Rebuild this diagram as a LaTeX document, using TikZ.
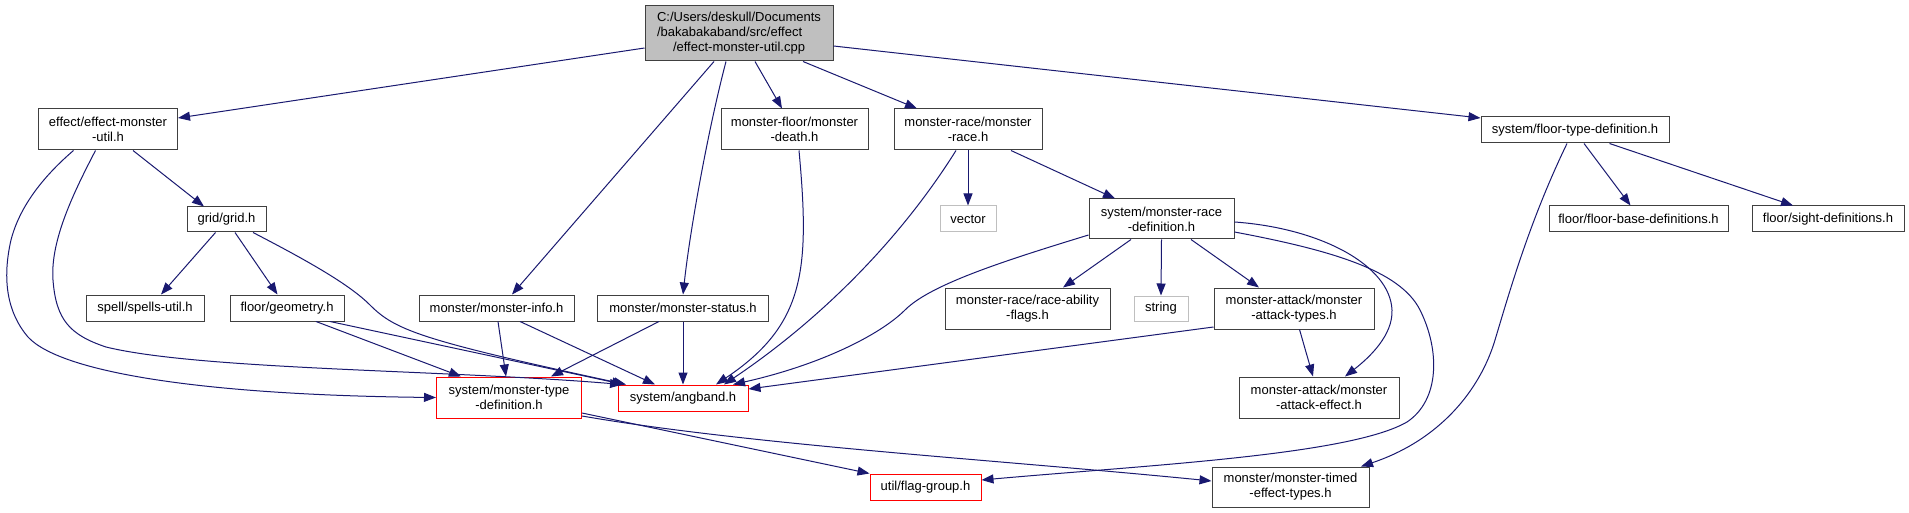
\documentclass[tikz,border=0pt]{standalone}
\usepackage{fontspec}
\setmainfont{Liberation Sans}
\usetikzlibrary{arrows.meta}
\definecolor{edgec}{HTML}{191970}
\definecolor{boxc}{HTML}{404040}
\definecolor{grayb}{HTML}{BFBFBF}
\tikzset{
  box/.style={draw=boxc, line width=1pt, fill=white, inner sep=0pt, align=center, font=\fontsize{13}{15}\selectfont},
  redbox/.style={box, draw=red},
  graybox/.style={box, draw=grayb},
  rootbox/.style={box, fill=grayb},
  edge/.style={draw=edgec, line width=1pt, -{Triangle[length=12pt,width=9pt]}},
}
\begin{document}
\begin{tikzpicture}[x=1pt,y=-1pt]
\fill[white] (0,0) rectangle (1909,513);
\useasboundingbox (0,0) rectangle (1909,513);
% nodes
\node[rootbox, minimum width=188, minimum height=55] (root) at (739,33.5)
  {C:/Users/deskull/Documents\\/bakabakaband/src/effect\kern1.441em\relax\\/effect-monster-util.cpp};
\node[box, minimum width=139, minimum height=41] (emu) at (108,129.5) {effect/effect-monster\\-util.h};
\node[box, minimum width=147, minimum height=41] (death) at (794.5,129.5) {monster-floor/monster\\-death.h};
\node[box, minimum width=148, minimum height=41] (race) at (968,129.5) {monster-race/monster\\-race.h};
\node[box, minimum width=188, minimum height=26] (ftd) at (1575,130) {system/floor-type-definition.h};
\node[box, minimum width=79, minimum height=25] (grid) at (226.5,219.5) {grid/grid.h};
\node[graybox, minimum width=56, minimum height=26] (vector) at (968,219) {vector};
\node[box, minimum width=145, minimum height=40] (rdef) at (1161.5,219) {system/monster-race\\-definition.h};
\node[box, minimum width=179, minimum height=26] (fbase) at (1638.5,219) {floor/floor-base-definitions.h};
\node[box, minimum width=152, minimum height=26] (sight) at (1828,219) {floor/sight-definitions.h};
\node[box, minimum width=118, minimum height=26] (spells) at (145,308) {spell/spells-util.h};
\node[box, minimum width=114, minimum height=26] (geom) at (287,308) {floor/geometry.h};
\node[box, minimum width=155, minimum height=26] (minfo) at (496.5,308) {monster/monster-info.h};
\node[box, minimum width=171, minimum height=26] (mstatus) at (683,308) {monster/monster-status.h};
\node[box, minimum width=165, minimum height=41] (rflags) at (1027.5,308.5) {monster-race/race-ability\\-flags.h};
\node[graybox, minimum width=54, minimum height=25] (string) at (1161,308.5) {string};
\node[box, minimum width=160, minimum height=41] (atypes) at (1294,308.5) {monster-attack/monster\\-attack-types.h};
\node[redbox, minimum width=145, minimum height=41] (mtd) at (509,397.5) {system/monster-type\\-definition.h};
\node[redbox, minimum width=130, minimum height=26] (angband) at (683,398) {system/angband.h};
\node[box, minimum width=160, minimum height=41] (aeffect) at (1319,397.5) {monster-attack/monster\\-attack-effect.h};
\node[redbox, minimum width=111, minimum height=26] (flag) at (925.5,487) {util/flag-group.h};
\node[box, minimum width=157, minimum height=40] (timed) at (1290.5,487) {monster/monster-timed\\-effect-types.h};
% edges
\draw[edge] (root.west |- 0,48) -- (emu.east |- 0,118);
\draw[edge] (root.south -| 714,0) -- (minfo.north -| 512,0);
\draw[edge] (root.south -| 726,0) .. controls (708,130) and (690,230) .. (mstatus.north);
\draw[edge] (root.south -| 755,0) -- (death.north -| 782,0);
\draw[edge] (root.south -| 803,0) -- (race.north -| 917,0);
\draw[edge] (root.east |- 0,46) -- (ftd.west |- 0,118);
\draw[edge] (emu.south -| 133,0) -- (grid.north -| 204,0);
\draw[edge] (emu.south -| 73.5,0) .. controls (45,175) and (20,205) .. (11,240) .. controls (3,275) and (5,310) .. (28,337) .. controls (60,372) and (200,395) .. (mtd.west);
\draw[edge] (emu.south -| 95.5,0) .. controls (75,190) and (50,240) .. (53,280) .. controls (56,320) and (70,335) .. (106,347) .. controls (200,370) and (450,370) .. (angband.north -| 622,0);
\draw[edge] (grid.south -| 215.5,0) -- (spells.north -| 161,0);
\draw[edge] (grid.south -| 235,0) -- (geom.north -| 277.5,0);
\draw[edge] (grid.south -| 253,0) .. controls (310,262) and (350,285) .. (370,305) .. controls (395,330) and (420,340) .. (angband.north -| 626,0);
\draw[edge] (geom.south -| 316,0) -- (mtd.north -| 461,0);
\draw[edge] (geom.south -| 330,0) -- (angband.north -| 624,0);
\draw[edge] (minfo.south -| 498,0) -- (mtd.north -| 506,0);
\draw[edge] (minfo.south -| 520,0) -- (angband.north -| 655,0);
\draw[edge] (mstatus.south -| 659,0) -- (mtd.north -| 551,0);
\draw[edge] (mstatus.south) -- (angband.north);
\draw[edge] (death.south -| 799,0) .. controls (810,270) and (805,325) .. (angband.north -| 716,0);
\draw[edge] (race.south -| 956,0) .. controls (900,240) and (820,320) .. (angband.north -| 724,0);
\draw[edge] (race.south -| 968,0) -- (vector.north);
\draw[edge] (race.south -| 1011,0) -- (rdef.north -| 1115,0);
\draw[edge] (rdef.west |- 0,235) .. controls (1000,262) and (930,285) .. (905,310) .. controls (880,335) and (820,365) .. (angband.north -| 733,0);
\draw[edge] (rdef.south -| 1131,0) -- (rflags.north -| 1063,0);
\draw[edge] (rdef.south) -- (string.north);
\draw[edge] (rdef.south -| 1191,0) -- (atypes.north -| 1259,0);
\draw[edge] (rdef.east |- 0,222) .. controls (1320,228) and (1390,265) .. (1392,310) .. controls (1393,335) and (1370,357) .. (aeffect.north -| 1345,0);
\draw[edge] (rdef.east |- 0,232) .. controls (1330,250) and (1400,270) .. (1420,310) .. controls (1440,350) and (1440,400) .. (1407,422) .. controls (1350,455) and (1150,465) .. (flag.east |- 0,480);
\draw[edge] (atypes.west |- 0,327) -- (angband.east |- 0,389);
\draw[edge] (atypes.south -| 1299.5,0) -- (aeffect.north -| 1313,0);
\draw[edge] (mtd.east |- 0,413) -- (flag.north west);
\draw[edge] (mtd.east |- 0,416) .. controls (750,445) and (1000,460) .. (timed.west |- 0,481);
\draw[edge] (ftd.south -| 1584,0) -- (fbase.north -| 1630.5,0);
\draw[edge] (ftd.south -| 1609.5,0) -- (sight.north -| 1793,0);
\draw[edge] (ftd.south -| 1567,0) .. controls (1530,220) and (1510,290) .. (1495,340) .. controls (1480,390) and (1440,440) .. (timed.north -| 1361,0);
\end{tikzpicture}
\end{document}
